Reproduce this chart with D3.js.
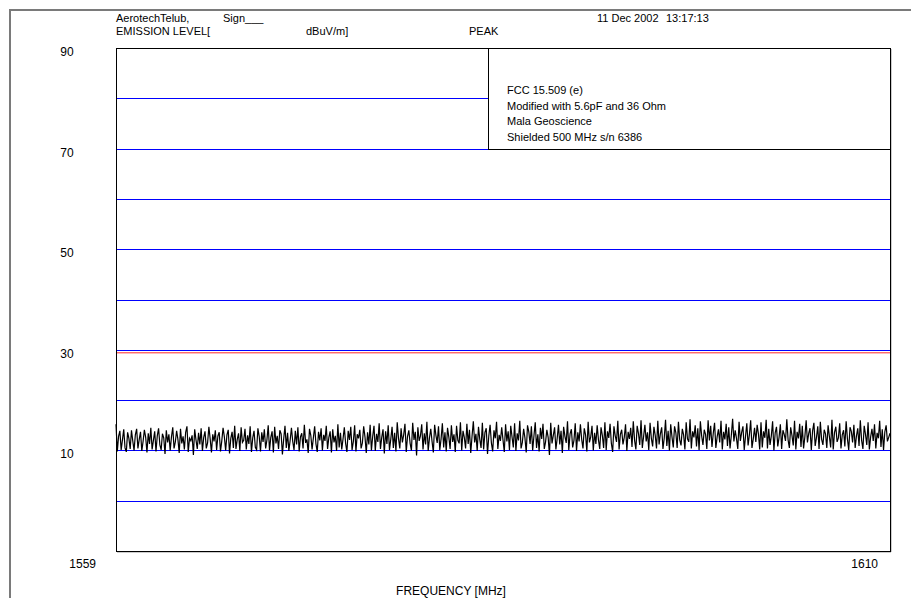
<!DOCTYPE html>
<html>
<head>
<meta charset="utf-8">
<script src="https://cdn.jsdelivr.net/npm/d3@7/dist/d3.min.js"></script>
<style>
  html, body { margin: 0; padding: 0; background: #fff; }
  svg { display: block; }
  text { font-family: "Liberation Sans", Arial, sans-serif; fill: #000; white-space: pre; }
</style>
</head>
<body>
<svg id="chart" width="911" height="598"></svg>
<script>
// Sweep settings (MHz)
const startFreq = 1559;
const stopFreq = 1610;

// Axis labels
const yTickLabels = [90, 70, 50, 30, 10];
const xTickLabels = [1559, 1610];
const gridLevels = [80, 70, 60, 50, 40, 30, 20, 10, 0];

// Limit line (dBuV/m)
const limitLevel = [29.4];

// Header and note text
const headerLine1 = ["AerotechTelub,", "Sign___"];
const headerLine2 = ["EMISSION LEVEL[", "dBuV/m]", "PEAK"];
const timestamp = ["11 Dec 2002", "13:17:13"];
const noteLines = [
  "FCC 15.509 (e)",
  "Modified with 5.6pF and 36 Ohm",
  "Mala Geoscience",
  "Shielded 500 MHz s/n 6386"
];

// Measured peak trace, 601 sweep points (dBuV/m)
const traceLevels = [
  15.2,9.8,12.8,13.9,10.1,12.1,14.2,10.5,9.7,13.6,12.4,10.3,14.0,11.9,10.0,13.1,14.3,10.4,12.2,13.7,
  9.9,11.8,14.1,12.6,9.6,13.4,11.3,14.5,10.2,12.0,13.8,9.8,12.9,14.4,11.1,10.1,13.3,12.5,9.3,14.0,
  11.6,13.2,10.0,12.7,14.6,10.4,11.7,13.9,12.2,9.5,14.3,11.4,12.8,10.2,13.6,14.8,9.7,12.4,11.9,13.0,
  9.1,14.2,12.1,10.3,13.5,11.2,14.4,9.9,12.6,13.8,10.4,11.5,14.7,12.3,9.6,13.2,11.8,14.0,10.1,12.9,
  13.6,9.8,11.9,14.5,12.7,10.0,13.1,14.1,9.4,12.4,13.7,10.5,14.9,10.3,12.2,13.4,9.9,14.6,11.6,12.0,
  14.3,10.2,13.0,11.3,14.8,9.7,12.5,13.9,10.6,10.1,14.4,12.8,9.8,13.6,11.7,14.2,10.4,12.1,15.0,10.0,
  12.6,13.8,9.6,14.7,11.4,12.9,10.3,14.0,13.3,9.2,12.3,14.9,10.5,13.5,9.9,12.0,14.5,11.8,10.1,13.9,
  11.2,14.6,9.8,12.7,13.4,10.4,15.1,11.5,12.2,9.5,14.3,13.0,10.2,12.5,14.8,11.3,9.7,13.7,12.0,14.4,
  10.0,13.1,11.9,14.9,10.3,12.6,13.8,9.6,14.2,11.6,12.9,9.9,15.2,10.6,13.5,10.2,12.3,14.6,11.4,9.7,
  13.9,12.1,14.7,10.1,11.8,15.0,9.8,13.2,12.4,14.1,10.4,11.5,14.8,12.7,9.5,13.6,11.2,15.1,10.0,12.8,
  14.9,9.9,13.3,11.7,15.4,10.3,12.6,14.2,9.4,13.8,11.3,15.0,10.1,12.2,14.7,10.5,13.5,9.8,15.6,12.4,
  10.4,14.4,11.6,13.1,15.3,9.7,12.8,14.0,11.4,10.0,15.5,12.1,13.7,9.0,14.6,11.9,12.9,15.2,10.2,13.4,
  11.2,15.7,9.9,12.5,14.3,11.8,9.6,15.1,13.0,11.5,14.8,10.1,12.3,15.4,10.6,13.6,9.8,14.5,12.7,10.3,
  15.0,11.7,13.2,9.7,14.9,12.0,11.4,15.6,10.0,13.9,12.6,10.4,15.3,11.3,14.1,9.5,12.8,15.8,11.6,13.3,
  9.9,14.7,12.2,10.5,15.5,10.2,13.6,14.4,9.3,12.9,15.1,11.5,9.8,14.0,12.4,15.7,10.3,13.1,11.9,14.6,
  12.1,9.7,15.2,11.8,13.8,10.1,14.9,12.7,10.6,15.4,9.9,13.4,12.0,15.9,10.4,11.6,14.3,12.5,9.6,15.0,
  13.7,11.3,14.8,10.0,12.9,15.6,10.5,13.2,9.8,14.5,12.3,15.3,10.3,11.7,14.1,12.6,9.1,15.5,11.4,13.0,
  14.6,10.2,12.4,15.1,11.2,13.9,9.5,14.7,12.8,11.5,15.8,10.1,13.3,14.2,10.6,12.0,15.4,9.9,13.6,11.8,
  15.2,12.2,10.4,14.4,13.1,9.8,15.7,11.6,12.7,14.9,10.0,13.5,11.3,15.0,12.1,10.3,14.6,13.0,10.5,15.6,
  10.1,13.8,12.5,15.3,11.4,9.7,14.8,12.9,11.7,15.9,10.2,13.2,14.1,11.2,12.6,15.2,9.9,13.7,12.3,14.5,
  10.7,15.8,12.0,10.2,14.9,13.4,11.1,16.0,10.5,12.8,15.1,11.8,13.6,10.1,15.5,12.4,10.8,14.7,13.0,10.4,
  15.9,11.2,13.3,14.6,10.3,12.5,16.1,10.9,13.9,10.0,15.2,12.7,10.6,14.8,13.5,10.5,15.7,12.1,11.0,14.3,
  13.1,10.2,15.6,12.3,11.7,16.2,10.4,13.8,12.6,15.0,10.8,14.4,10.1,15.8,12.9,11.1,14.1,13.2,10.3,16.0,
  12.0,14.9,10.7,13.4,15.5,10.5,12.7,14.2,11.6,15.9,10.2,13.7,12.2,15.3,10.9,14.6,10.4,13.0,16.3,11.8,
  14.0,12.4,10.3,15.7,11.9,13.6,14.8,10.1,12.8,15.4,11.0,13.1,16.0,10.5,12.3,14.5,11.7,15.1,13.3,10.2,
  15.6,10.6,13.8,12.5,16.1,10.4,14.3,11.1,12.9,15.8,10.0,13.5,14.7,10.8,12.6,15.2,10.3,14.0,13.2,11.9,
  16.2,12.1,10.5,14.6,13.0,11.0,15.9,10.2,13.7,12.4,15.3,10.7,14.9,10.4,12.7,16.0,11.6,13.4,14.4,10.1,
  13.9,15.5,10.9,12.6,14.8,10.3,15.7,12.2,11.1,14.1,13.3,10.5,15.0,12.8,10.6,16.1,10.2,13.6,14.7,11.7,
  12.5,15.4,10.4,13.1,14.0,10.8,15.8,12.3,10.1,14.6,13.8,11.6,15.1,10.5,12.9,14.4,10.9,16.0,12.0,10.3,
  14.9,13.2,11.1,15.6,10.2,12.7,14.3,11.9,15.2,10.4,13.5,12.4,15.9,10.7,14.2,10.1,13.7,15.0,11.8,12.6,
  13.4
];

const svg = d3.select("#chart");

const plot = { left: 116, right: 890, top: 48, bottom: 551 };
const noteBoxLeft = 488;

const x = d3.scaleLinear().domain([startFreq, stopFreq]).range([plot.left, plot.right]);
const y = d3.scaleLinear().domain([-10, 90]).range([plot.bottom, plot.top]);

// Page frame (left and top rules)
svg.append("path")
  .attr("d", `M10,598 V10 H911`)
  .attr("fill", "none")
  .attr("stroke", "#7a7a7a")
  .attr("stroke-width", 2);

// Header text
const hdrFont = 11;
const hdr = svg.append("g").attr("font-size", hdrFont);
hdr.append("text").attr("x", 116).attr("y", 22).text(headerLine1[0]);
hdr.append("text").attr("x", 223).attr("y", 22).text(headerLine1[1]);
hdr.append("text").attr("x", 597).attr("y", 22).text(timestamp[0]);
hdr.append("text").attr("x", 666).attr("y", 22).text(timestamp[1]);
hdr.append("text").attr("x", 116).attr("y", 35).text(headerLine2[0]);
hdr.append("text").attr("x", 306).attr("y", 35).text(headerLine2[1]);
hdr.append("text").attr("x", 469).attr("y", 35).text(headerLine2[2]);

// Plot border shadow
svg.append("path")
  .attr("d", `M${plot.right + 1},${plot.top + 1} V${plot.bottom + 1} H${plot.left + 1}`)
  .attr("fill", "none")
  .attr("stroke", "#9a9a9a")
  .attr("stroke-width", 1);

// Blue level grid
svg.append("g").selectAll("line")
  .data(gridLevels)
  .join("line")
  .attr("x1", plot.left)
  .attr("x2", plot.right)
  .attr("y1", d => Math.round(y(d)) + 0.5)
  .attr("y2", d => Math.round(y(d)) + 0.5)
  .attr("stroke", "#0000ff")
  .attr("stroke-width", 1);

// Note box in upper-right corner
svg.append("rect")
  .attr("x", noteBoxLeft + 0.5)
  .attr("y", plot.top + 0.5)
  .attr("width", plot.right - noteBoxLeft)
  .attr("height", Math.round(y(70)) - plot.top)
  .attr("fill", "#fff")
  .attr("stroke", "#000")
  .attr("stroke-width", 1);

svg.append("g").selectAll("text")
  .data(noteLines)
  .join("text")
  .attr("x", 507)
  .attr("y", (d, i) => 94 + i * 15.5)
  .attr("font-size", 11)
  .text(d => d);

// Limit line
svg.append("g").selectAll("line")
  .data(limitLevel)
  .join("line")
  .attr("x1", plot.left)
  .attr("x2", plot.right)
  .attr("y1", d => y(d))
  .attr("y2", d => y(d))
  .attr("stroke", "#ff2a2a")
  .attr("stroke-width", 1);

// Peak trace
const step = (stopFreq - startFreq) / (traceLevels.length - 1);
const line = d3.line()
  .x((d, i) => x(startFreq + i * step))
  .y(d => y(d));

svg.append("path")
  .datum(traceLevels)
  .attr("d", line)
  .attr("fill", "none")
  .attr("stroke", "#000")
  .attr("stroke-width", 1.2)
  .attr("stroke-linejoin", "miter");

// Plot border
svg.append("rect")
  .attr("x", plot.left + 0.5)
  .attr("y", plot.top + 0.5)
  .attr("width", plot.right - plot.left)
  .attr("height", plot.bottom - plot.top)
  .attr("fill", "none")
  .attr("stroke", "#000")
  .attr("stroke-width", 1);

// Level labels
svg.append("g").selectAll("text")
  .data(yTickLabels)
  .join("text")
  .attr("x", 67)
  .attr("y", d => y(d) + 8)
  .attr("text-anchor", "middle")
  .attr("font-size", 12)
  .text(d => d);

// Frequency labels
const xLabelOffset = { 1559: -20, 1610: -12 };
svg.append("g").selectAll("text")
  .data(xTickLabels)
  .join("text")
  .attr("x", d => x(d) + xLabelOffset[d])
  .attr("y", 568)
  .attr("text-anchor", "end")
  .attr("font-size", 12)
  .text(d => d);

svg.append("text")
  .attr("x", 451)
  .attr("y", 595)
  .attr("text-anchor", "middle")
  .attr("font-size", 12)
  .text("FREQUENCY [MHz]");
</script>
</body>
</html>
